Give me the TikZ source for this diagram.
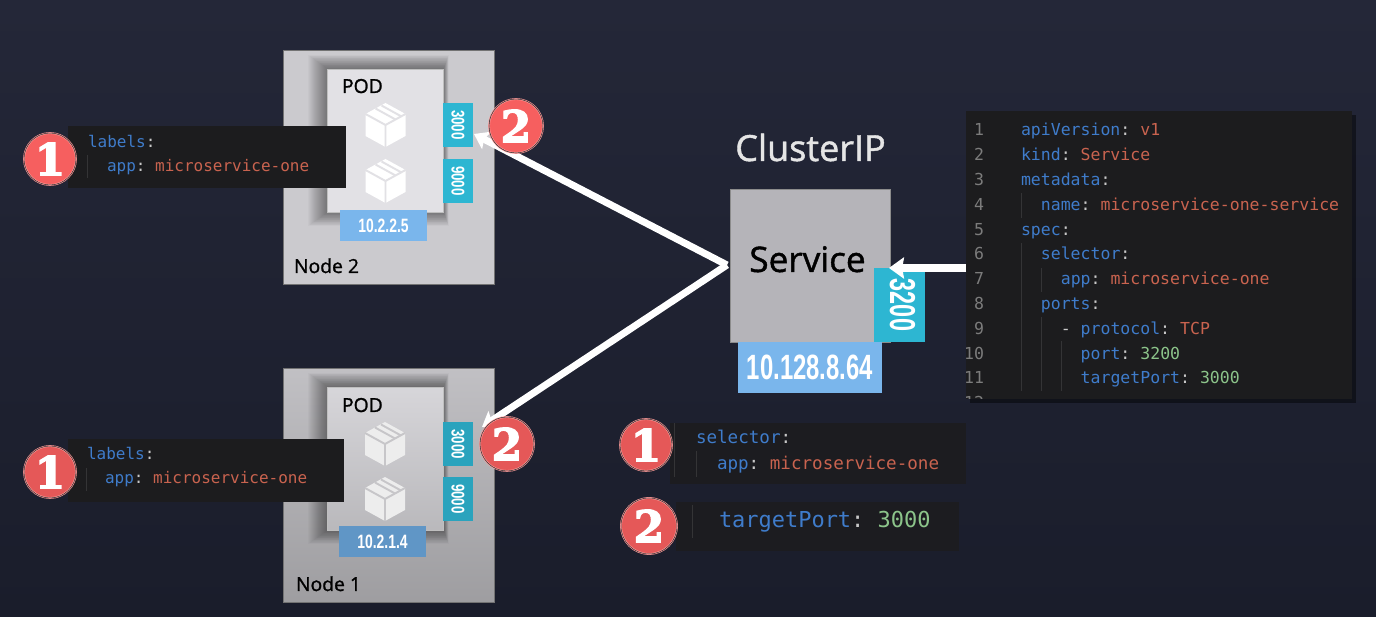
\documentclass[tikz,border=0pt]{standalone}
\usepackage{fontspec}
\usetikzlibrary{positioning,arrows.meta,shadows}
\setmainfont{Open Sans}
\newfontfamily\medfont[FakeBold=1.2]{Open Sans}
\newfontfamily\codefont{DejaVu Sans Mono}
\newfontfamily\labelfont{Liberation Sans Bold}
\newfontfamily\badgefont[FakeBold=3]{DejaVu Serif Bold}
\frenchspacing

\definecolor{bgtop}{HTML}{242738}
\definecolor{bgbottom}{HTML}{1A1D2B}
\definecolor{panelgray}{HTML}{1C1C1E}
\definecolor{guidegray}{HTML}{343436}
\definecolor{keyblue}{HTML}{3F7CCB}
\definecolor{valred}{HTML}{C9634F}
\definecolor{numgreen}{HTML}{8CC48A}
\definecolor{colongray}{HTML}{C8C8C8}
\definecolor{linegray}{HTML}{7C7C7C}
\definecolor{porttop}{HTML}{2DB6D2}
\definecolor{portlow}{HTML}{2AA3BD}
\definecolor{iptop}{HTML}{7AB6EC}
\definecolor{iplow}{HTML}{6096C6}
\definecolor{badgetop}{HTML}{F65F5F}
\definecolor{badgelow}{HTML}{E55858}
\definecolor{ringpink}{HTML}{FF9A9A}
\definecolor{nodegray}{HTML}{CBCACE}
\definecolor{podgray}{HTML}{E2E1E5}
\definecolor{svcgray}{HTML}{B5B4B9}

\newcommand{\ykey}[1]{\textcolor{keyblue}{#1}\textcolor{colongray}{:}}
\newcommand{\yval}[1]{\textcolor{valred}{#1}}
\newcommand{\ynum}[1]{\textcolor{numgreen}{#1}}

\begin{document}
\begin{tikzpicture}[
    x=0.02cm,
    y=-0.02cm,
    inner sep=0pt,
    outer sep=0pt,
    nodebox/.style={minimum width=4.22cm, minimum height=4.68cm, draw=black!55, line width=0.3pt},
    podbox/.style={minimum width=2.32cm, minimum height=2.86cm, draw=black!25, line width=0.3pt},
    port/.style={minimum width=0.6cm, minimum height=0.88cm, text=white,
        font=\labelfont\fontsize{10.5}{10}\selectfont},
    ipbox/.style={minimum width=1.74cm, minimum height=0.62cm, text=white,
        font=\labelfont\fontsize{11}{12}\selectfont},
    codepanel/.style={fill=panelgray, anchor=north west},
    code/.style={anchor=base west, text=white, font=\codefont\fontsize{9.4}{10}\selectfont},
    smallcode/.style={anchor=base west, text=white, font=\codefont\fontsize{9.1}{10}\selectfont},
    lineno/.style={anchor=base east, text=linegray, font=\codefont\fontsize{9.4}{10}\selectfont},
    guide/.style={draw=guidegray, line width=0.5pt},
    badge/.style={circle, minimum size=1.04cm, text=white, draw=ringpink, double=black!80,
        double distance=0.3pt, line width=0.35pt, font=\badgefont\fontsize{25}{25}\selectfont},
    boxlabel/.style={anchor=base west, text=black, font=\medfont\fontsize{11}{12}\selectfont},
    arrow/.style={-{Stealth[length=8pt, width=11pt, inset=1.5pt]}, white, line width=4pt},
    podcube/.pic={
        \fill[pic actions] (0,-22) -- (20,-11) -- (20,11) -- (0,22) -- (-20,11) -- (-20,-11) -- cycle;
        \draw[podgap, line width=1.1pt] (-20,-11) -- (0,0) -- (20,-11) (0,0) -- (0,22);
        \draw[podgap, line width=1.1pt] (-10,-16.5) -- (10,-5.5) (-4,-19.5) -- (16,-8.5);
    }
]
\colorlet{podgap}{podgray}

% ============================================================
% BACKGROUND
% ============================================================
\shade[top color=bgtop, bottom color=bgbottom] (0,0) rectangle (1376,617);
\useasboundingbox (0,0) rectangle (1376,617);

% ============================================================
% NODE 2
% ============================================================
\node[nodebox, fill=nodegray] (node2) at (388.5,167) {};
\foreach \s in {1,...,20}
    \fill[black, opacity=0.025] (327.5-\s,69-\s*0.7) rectangle (443.5+\s*0.25,212+\s*0.7);
\node[podbox, fill=podgray, below=0.38cm of node2.north, xshift=-0.07cm] (pod2) {};
\node[port, fill=porttop, below right=0.68cm and 0cm of pod2.north east] (port2a) {\rotatebox{-90}{\scalebox{0.72}[1]{3000}}};
\node[port, fill=porttop, below=0.24cm of port2a] (port2b) {\rotatebox{-90}{\scalebox{0.72}[1]{9000}}};
\node[ipbox, fill=iptop, below=-0.04cm of pod2, xshift=-0.03cm] (ip2) {\scalebox{0.72}[1]{10.2.2.5}};
\node[boxlabel] (podname2) at (342,93) {POD};
\node[boxlabel] (nodename2) at (294,273) {Node 2};
\pic[fill=white] at (385.5,125) {podcube};
\pic[fill=white] at (385.5,181) {podcube};

% ============================================================
% NODE 1
% ============================================================
\node[nodebox, top color=nodegray!95!black, bottom color=nodegray!78!black] (node1) at (388.5,485) {};
\foreach \s in {1,...,20}
    \fill[black, opacity=0.025] (327.5-\s,387-\s*0.7) rectangle (443.5+\s*0.25,530+\s*0.7);
\node[podbox, top color=podgray!95!black, bottom color=podgray!82!black, below=0.38cm of node1.north, xshift=-0.07cm] (pod1) {};
\node[port, fill=portlow, below right=0.7cm and 0cm of pod1.north east] (port1a) {\rotatebox{-90}{\scalebox{0.72}[1]{3000}}};
\node[port, fill=portlow, below=0.22cm of port1a] (port1b) {\rotatebox{-90}{\scalebox{0.72}[1]{9000}}};
\node[ipbox, fill=iplow, below=-0.08cm of pod1, xshift=-0.05cm] (ip1) {\scalebox{0.72}[1]{10.2.1.4}};
\node[boxlabel] (podname1) at (342,412) {POD};
\node[boxlabel] (nodename1) at (296,591) {Node 1};
\colorlet{podgap}{podgray!88!black}
\pic[fill=black!7] at (385,444) {podcube};
\pic[fill=black!7] at (385,499) {podcube};

% ============================================================
% SERVICE
% ============================================================
\node[minimum width=3.2cm, minimum height=3.06cm, fill=svcgray, draw=black!45, line width=0.3pt] (svc) at (810,265.5) {};
\node[anchor=base, text=black, font=\medfont\fontsize{20}{20}\selectfont] (svcname) at (807.5,272) {Service};
\node[anchor=base, text=black!10, font=\medfont\fontsize{20.5}{20}\selectfont] (clusterip) at (810.5,161) {ClusterIP};
\node[fill=porttop, minimum width=1.02cm, minimum height=1.48cm, text=white,
    font=\labelfont\fontsize{20.5}{20}\selectfont] (port3200) at (899.5,305) {\hspace*{3.4pt}\rotatebox{-90}{\scalebox{0.65}[1]{3200}}};
\node[fill=iptop, minimum width=2.88cm, minimum height=1.02cm, text=white,
    font=\labelfont\fontsize{20}{22}\selectfont] (ipsvc) at (810,367.5) {\scalebox{0.68}[1]{10.128.8.64}};

% ============================================================
% MANIFEST
% ============================================================
\node[codepanel, minimum width=7.72cm, minimum height=5.76cm,
    drop shadow={fill=black, shadow xshift=0.08cm, shadow yshift=-0.08cm, opacity=0.45}] (manifest) at (966,111) {};
\begin{scope}
    \clip (966,111) rectangle (1352,399);
    \foreach \i in {1,...,12}
        \node[lineno] (num\i) at (984,{136+(\i-1)*24.8}) {\i};
\end{scope}
\foreach \i/\ind/\txt in {
    1/0/{\ykey{apiVersion} \yval{v1}},
    2/0/{\ykey{kind} \yval{Service}},
    3/0/{\ykey{metadata}},
    4/1/{\ykey{name} \yval{microservice-one-service}},
    5/0/{\ykey{spec}},
    6/1/{\ykey{selector}},
    7/2/{\ykey{app} \yval{microservice-one}},
    8/1/{\ykey{ports}},
    9/2/{\textcolor{colongray}{-} \ykey{protocol} \yval{TCP}},
    10/3/{\ykey{port} \ynum{3200}},
    11/3/{\ykey{targetPort} \ynum{3000}}}
    \node[code] (line\i) at ({1021+\ind*19.9},{136+(\i-1)*24.8}) {\txt};
\draw[guide] (1021,193) -- (1021,218);
\draw[guide] (1021,243) -- (1021,391);
\draw[guide] (1041,268) -- (1041,292);
\draw[guide] (1041,317) -- (1041,391);
\draw[guide] (1061,341) -- (1061,391);

% ============================================================
% ARROWS
% ============================================================
\coordinate (fork) at (727,265);
\coordinate (tip2) at (474,134);
\coordinate (tip1) at (482,427);
\coordinate (codeout) at (966,268);
\coordinate (svcin) at (889,268);
\draw[arrow] (fork) -- (tip2);
\draw[arrow] (fork) -- (tip1);
\draw[arrow, line width=5pt, -{Stealth[length=8.5pt, width=12pt, inset=1pt]}] (codeout) -- (svcin);

% ============================================================
% LABELS
% ============================================================
\node[codepanel, minimum width=5.56cm, minimum height=1.24cm] (labels2) at (68,126) {};
\node[smallcode] (labelskey2) at (88,148) {\ykey{labels}};
\node[smallcode] (labelsapp2) at (107,172) {\ykey{app} \yval{microservice-one}};
\draw[guide] (87,155) -- (87,178);

\node[codepanel, minimum width=5.52cm, minimum height=1.26cm] (labels1) at (68,439) {};
\node[smallcode] (labelskey1) at (87,460) {\ykey{labels}};
\node[smallcode] (labelsapp1) at (105,484) {\ykey{app} \yval{microservice-one}};
\draw[guide] (86,468) -- (86,491);

\node[codepanel, fill=panelgray!85!bgbottom, minimum width=5.92cm, minimum height=1.22cm] (selectorbox) at (670,423) {};
\node[anchor=base west, text=white, font=\codefont\fontsize{10}{11}\selectfont] (selectorkey) at (696,444) {\ykey{selector}};
\node[anchor=base west, text=white, font=\codefont\fontsize{10}{11}\selectfont] (selectorapp) at (717,470) {\ykey{app} \yval{microservice-one}};
\draw[guide] (674,423) -- (674,477);
\draw[guide] (696,451) -- (696,477);

\node[codepanel, fill=panelgray!85!bgbottom, minimum width=5.66cm, minimum height=0.98cm] (targetbox) at (676,502) {};
\node[anchor=base west, text=white, font=\codefont\fontsize{12.5}{13}\selectfont] (targetkey) at (719,528) {\ykey{targetPort} \ynum{3000}};
\draw[guide] (692,505) -- (692,538);

% ============================================================
% BADGES
% ============================================================
\node[badge, fill=badgetop] (one2) at (50,159) {1};
\node[badge, fill=badgetop, minimum size=1.08cm] (two2) at (516,126) {2};
\node[badge, fill=badgelow] (one1) at (50,472) {1};
\node[badge, fill=badgelow, minimum size=1.08cm] (two1) at (507,444) {2};
\node[badge, fill=badgelow] (onesel) at (646,445) {1};
\node[badge, fill=badgelow, minimum size=1.12cm] (twosel) at (649,526) {2};

\end{tikzpicture}
\end{document}
